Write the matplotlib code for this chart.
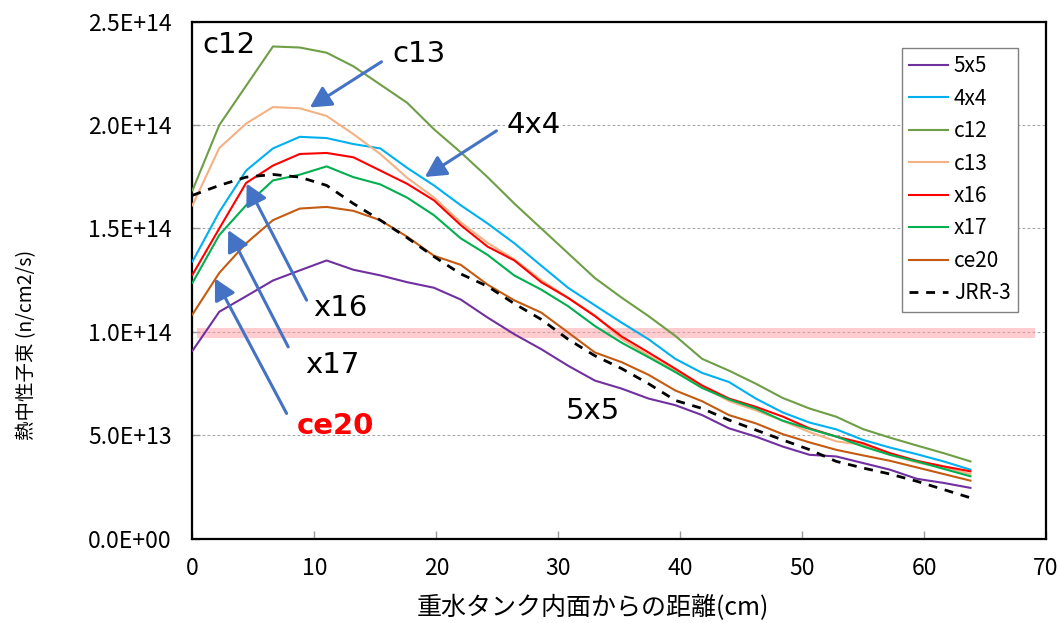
import numpy as np
import matplotlib
matplotlib.use("Agg")
import matplotlib.pyplot as plt
from matplotlib.ticker import FuncFormatter

plt.rcParams['font.family'] = ['Noto Sans CJK JP', 'DejaVu Sans']

# ---- data (flux in units of 1E14 n/cm2/s) ----
distance_cm = [0.0, 2.2, 4.4, 6.6, 8.8, 11.0, 13.2, 15.4, 17.6, 19.8,
               22.0, 24.2, 26.4, 28.6, 30.8, 33.0, 35.2, 37.4, 39.6, 41.8,
               44.0, 46.2, 48.4, 50.6, 52.8, 55.0, 57.2, 59.4, 61.6, 63.8]

flux_5x5 = [0.908, 1.097, 1.172, 1.248, 1.297, 1.345, 1.300, 1.273, 1.240, 1.213,
            1.156, 1.069, 0.988, 0.916, 0.836, 0.764, 0.725, 0.677, 0.645, 0.597,
            0.533, 0.493, 0.445, 0.405, 0.397, 0.365, 0.333, 0.289, 0.269, 0.245]
flux_4x4 = [1.340, 1.580, 1.780, 1.887, 1.943, 1.937, 1.908, 1.887, 1.793, 1.708,
            1.612, 1.524, 1.428, 1.320, 1.213, 1.128, 1.044, 0.964, 0.869, 0.801,
            0.757, 0.677, 0.610, 0.561, 0.528, 0.477, 0.440, 0.408, 0.373, 0.333]
flux_c12 = [1.684, 2.000, 2.190, 2.380, 2.375, 2.350, 2.284, 2.196, 2.108, 1.980,
            1.868, 1.748, 1.620, 1.500, 1.380, 1.260, 1.165, 1.076, 0.980, 0.869,
            0.812, 0.749, 0.680, 0.629, 0.589, 0.529, 0.488, 0.450, 0.413, 0.373]
flux_c13 = [1.612, 1.889, 2.007, 2.087, 2.081, 2.044, 1.956, 1.860, 1.745, 1.650,
            1.530, 1.430, 1.350, 1.250, 1.165, 1.080, 0.965, 0.885, 0.810, 0.735,
            0.665, 0.620, 0.570, 0.515, 0.470, 0.453, 0.405, 0.368, 0.344, 0.312]
flux_x16 = [1.276, 1.500, 1.720, 1.804, 1.860, 1.865, 1.844, 1.780, 1.716, 1.636,
            1.516, 1.412, 1.345, 1.240, 1.164, 1.076, 0.977, 0.900, 0.821, 0.740,
            0.677, 0.637, 0.590, 0.533, 0.493, 0.461, 0.413, 0.376, 0.349, 0.325]
flux_x17 = [1.237, 1.468, 1.612, 1.732, 1.760, 1.800, 1.748, 1.713, 1.649, 1.564,
            1.452, 1.372, 1.272, 1.204, 1.124, 1.028, 0.947, 0.877, 0.805, 0.728,
            0.673, 0.629, 0.570, 0.530, 0.493, 0.445, 0.405, 0.373, 0.337, 0.301]
flux_ce20 = [1.084, 1.285, 1.428, 1.540, 1.596, 1.604, 1.585, 1.540, 1.460, 1.368,
             1.324, 1.228, 1.152, 1.093, 0.997, 0.900, 0.853, 0.792, 0.716, 0.664,
             0.597, 0.557, 0.505, 0.465, 0.429, 0.402, 0.376, 0.344, 0.312, 0.280]
flux_jrr3 = [1.660, 1.708, 1.748, 1.761, 1.748, 1.708, 1.620, 1.540, 1.455, 1.364,
             1.280, 1.220, 1.136, 1.060, 0.964, 0.884, 0.822, 0.749, 0.668, 0.629,
             0.573, 0.525, 0.477, 0.430, 0.373, 0.341, 0.312, 0.277, 0.237, 0.197]

series_names = ['5x5', '4x4', 'c12', 'c13', 'x16', 'x17', 'ce20', 'JRR-3']
series_values = [flux_5x5, flux_4x4, flux_c12, flux_c13, flux_x16, flux_x17, flux_ce20, flux_jrr3]
series_colors = ['#7030A0', '#00B0F0', '#6E9E45', '#F4B183', '#FF0000', '#00B050', '#C55A11', '#000000']

UNIT = 1e14
band_lo, band_hi = 0.97, 1.02   # highlighted band (x 1E14)

x_ticks = [0, 10, 20, 30, 40, 50, 60, 70]
y_ticks = [0.0, 0.5, 1.0, 1.5, 2.0, 2.5]

# ---- figure ----
fig = plt.figure(figsize=(10.57, 6.23), dpi=100)
ax = fig.add_axes([0.1821, 0.1356, 0.8075, 0.8296])

x = np.array(distance_cm)
for name, vals, col in zip(series_names, series_values, series_colors):
    y = np.array(vals) * UNIT
    if name == 'JRR-3':
        ax.plot(x, y, color=col, lw=2.0, ls=(0, (3.2, 2.8)), label=name, zorder=4)
    else:
        ax.plot(x, y, color=col, lw=1.5, label=name, zorder=3)

ax.axhspan(band_lo * UNIT, band_hi * UNIT, xmin=0.005, xmax=0.987,
           color='#FF9AA2', alpha=0.5, lw=0, zorder=1.5)

ax.set_xlim(0, 70)
ax.set_ylim(0, 2.5 * UNIT)
ax.set_xticks(x_ticks)
ax.set_yticks([v * UNIT for v in y_ticks])
ax.yaxis.set_major_formatter(FuncFormatter(lambda v, p: f"{v:.1E}"))
ax.grid(axis='y', color='#A6A6A6', ls=(0, (2.5, 2)), lw=0.8, zorder=0)
ax.set_axisbelow(True)

ax.tick_params(direction='in', length=6, width=1, color='#999999',
               labelcolor='black')
for lab in ax.get_xticklabels() + ax.get_yticklabels():
    lab.set_fontsize(16.5)
ax.tick_params(axis='x', pad=13)
ax.tick_params(axis='y', pad=15)
for s in ax.spines.values():
    s.set_color('black')
    s.set_linewidth(1.6)

ax.set_ylabel('熱中性子束 (n/cm2/s)', fontsize=14)
ax.yaxis.set_label_coords(-0.182, 0.374)
ax.set_xlabel('重水タンク内面からの距離(cm)', fontsize=18)
ax.xaxis.set_label_coords(0.469, -0.11)

leg = ax.legend(loc='upper right', bbox_to_anchor=(0.967, 0.949),
                prop={'size': 15}, frameon=True, fancybox=False,
                edgecolor='#808080', framealpha=1,
                handlelength=1.85, handletextpad=0.3, labelspacing=0.5,
                borderpad=0.35, borderaxespad=0)
leg.get_frame().set_linewidth(1.0)

# ---- annotations (layout in data coords) ----
label_font = dict(fontsize=21, family='DejaVu Sans', ha='center', va='center')
ax.text(3.0, 2.387 * UNIT, 'c12', **label_font, zorder=6)
ax.text(18.6, 2.343 * UNIT, 'c13', **label_font, zorder=6)
ax.text(28.0, 2.002 * UNIT, '4x4', **label_font, zorder=6,
        bbox=dict(facecolor='white', edgecolor='none', pad=1))
ax.text(12.1, 1.114 * UNIT, 'x16', **label_font, zorder=6)
ax.text(11.5, 0.838 * UNIT, 'x17', **label_font, zorder=6)
ax.text(11.7, 0.546 * UNIT, 'ce20', fontsize=21, family='DejaVu Sans', weight='bold',
        color='#FF0000', ha='center', va='center', zorder=6)
ax.text(32.8, 0.617 * UNIT, '5x5', **label_font, zorder=6)

arrow_tails = [(15.5, 2.306), (24.93, 1.972), (9.36, 1.153), (7.85, 0.927), (7.72, 0.605)]
arrow_heads = [(9.63, 2.085), (19.06, 1.749), (4.44, 1.717), (2.93, 1.492), (1.84, 1.258)]
for (tx, ty), (hx, hy) in zip(arrow_tails, arrow_heads):
    ax.annotate('', xy=(hx, hy * UNIT), xytext=(tx, ty * UNIT),
                arrowprops=dict(arrowstyle='-|>,head_length=0.85,head_width=0.45',
                                mutation_scale=15, color='#4472C4', lw=2.2,
                                shrinkA=0, shrinkB=0),
                zorder=7)

fig.savefig('out.png', dpi=100)
